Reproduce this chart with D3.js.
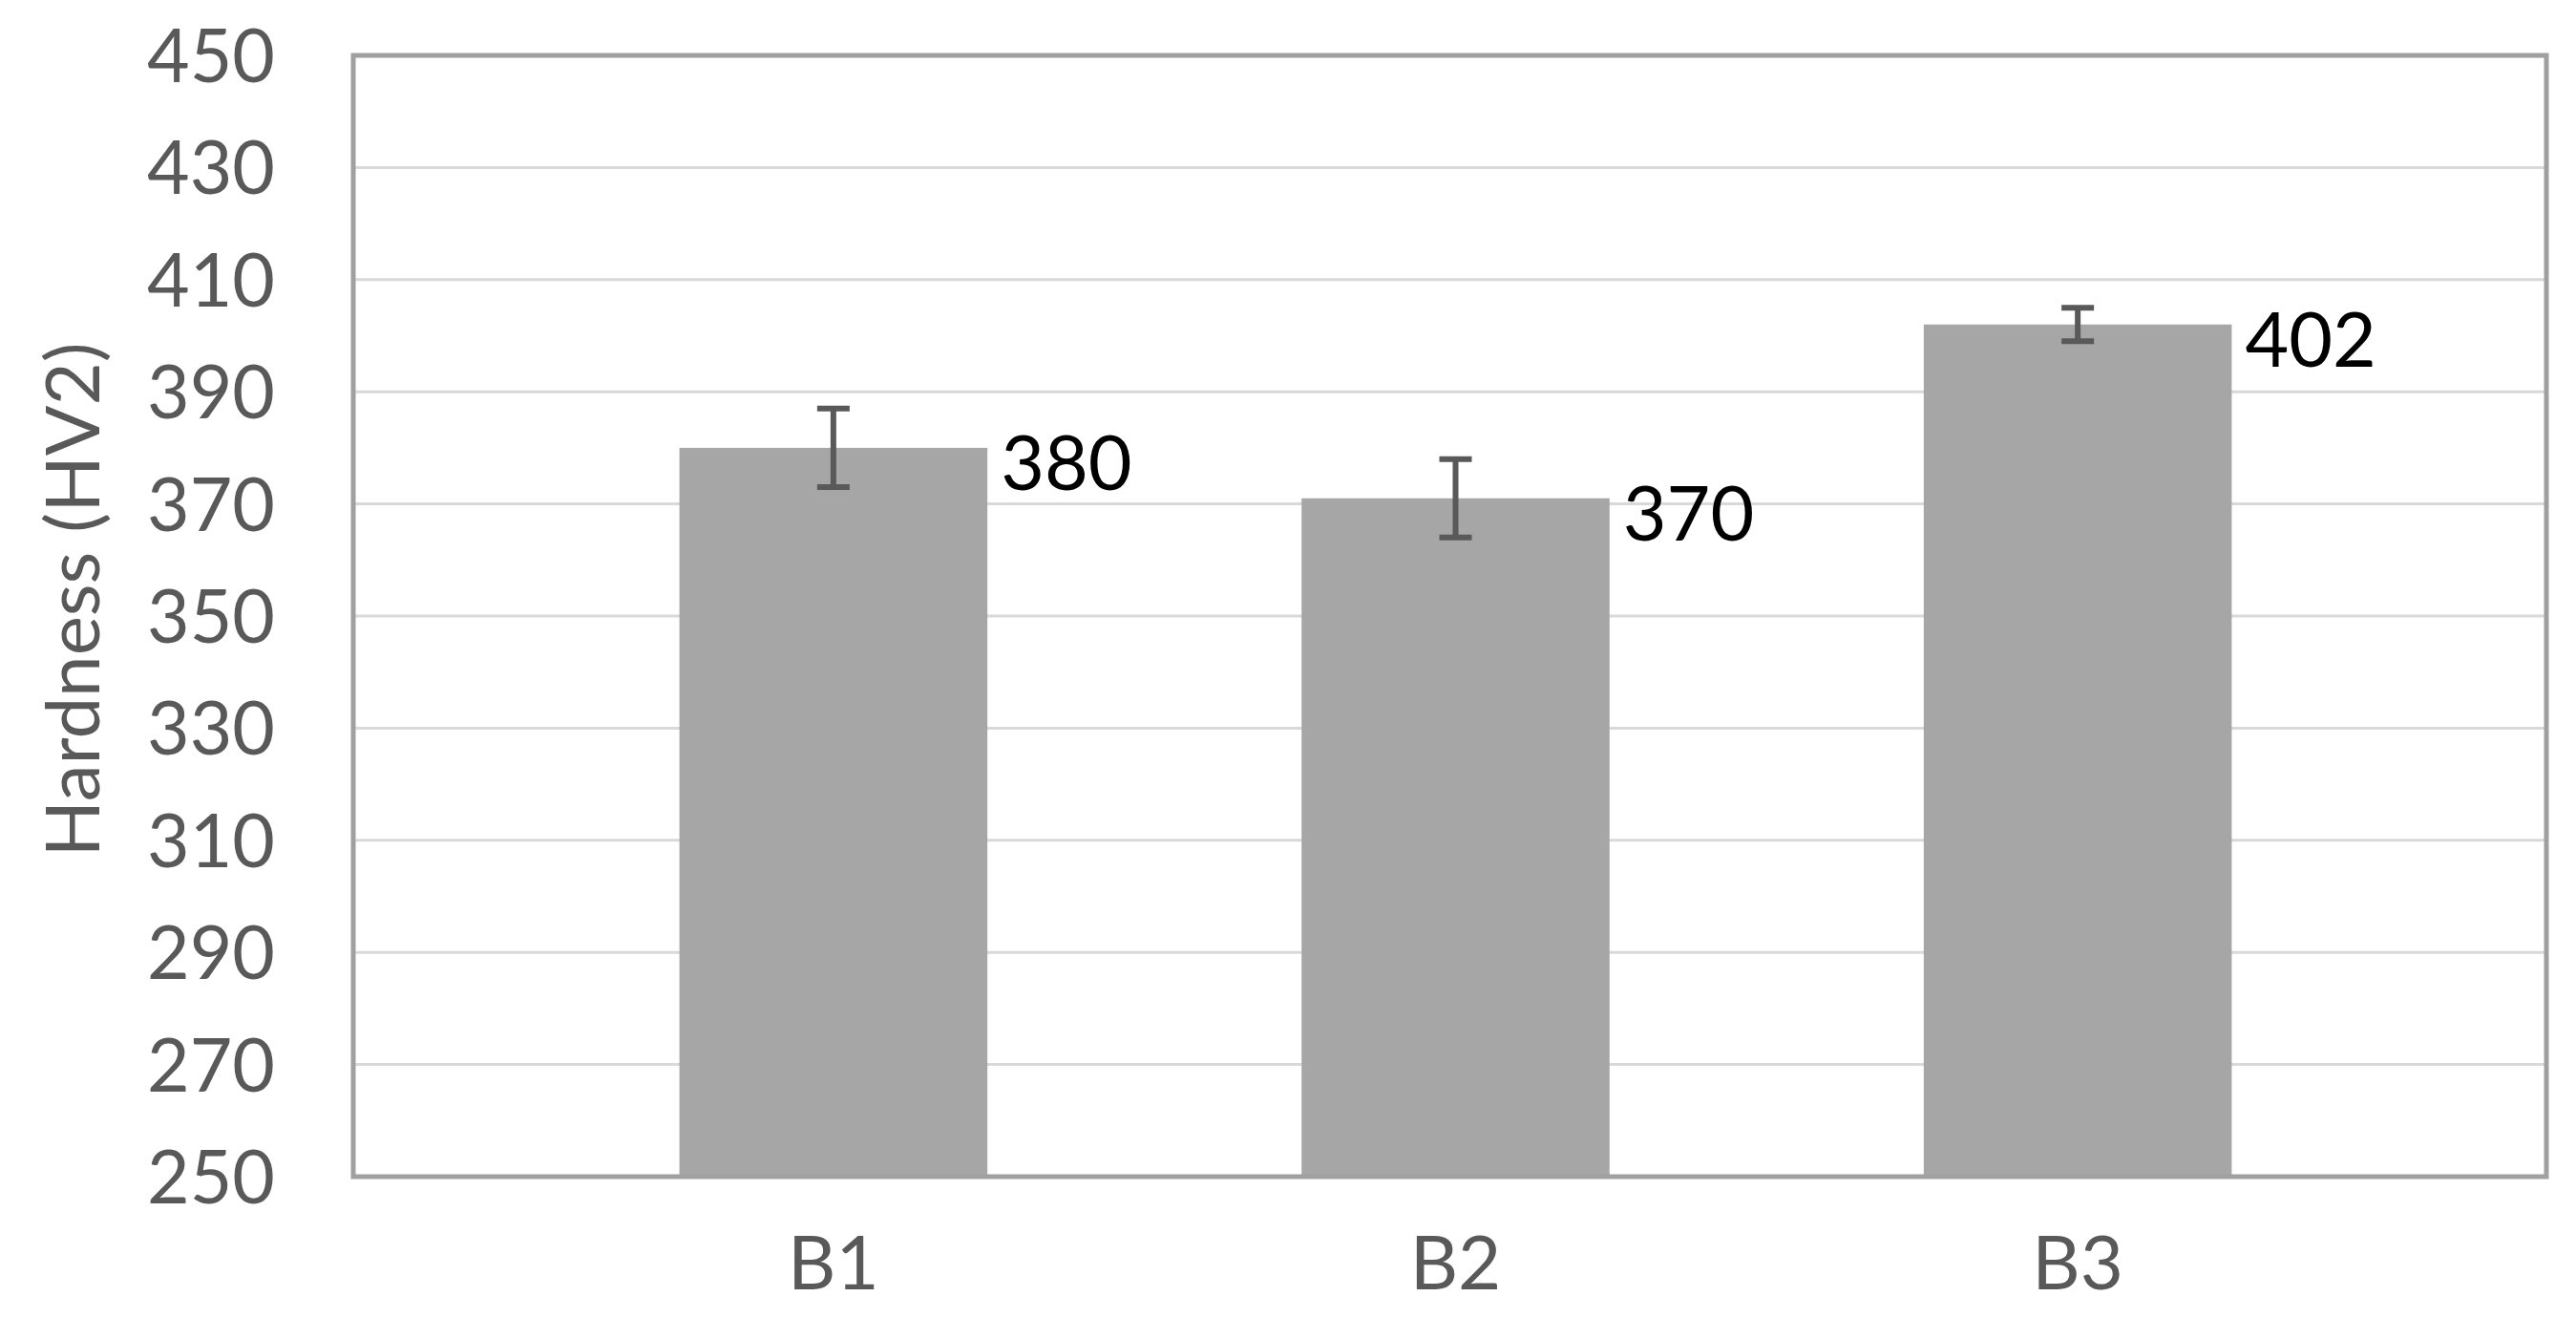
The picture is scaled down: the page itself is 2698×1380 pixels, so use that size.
<!DOCTYPE html>
<html>
<head>
<meta charset="utf-8">
<script src="https://cdn.jsdelivr.net/npm/d3@7"></script>
<style>
  body { margin: 0; background: #fff; }
  text { font-family: Lato, "Noto Sans", sans-serif; }
</style>
</head>
<body>
<div id="chart"></div>
<script>
var categories = ['B1', 'B2', 'B3'];
var hardness = [380, 371, 402];
var valueLabels = ['380', '370', '402'];
var errors = [7, 7, 3];
var yTicks = [250, 270, 290, 310, 330, 350, 370, 390, 410, 430, 450];

var width = 2698, height = 1380;
var plot = { left: 370, right: 2667, top: 58, bottom: 1232 };

var svg = d3.select('#chart').append('svg')
    .attr('width', width)
    .attr('height', height);

var x = d3.scaleBand()
    .domain(categories)
    .range([plot.left + 6, plot.right + 6])
    .paddingInner(0.505)
    .paddingOuter(0.515);

var y = d3.scaleLinear()
    .domain([250, 450])
    .range([plot.bottom, plot.top]);

// gridlines
svg.append('g')
  .selectAll('line')
  .data(yTicks.slice(1, -1))
  .enter()
  .append('line')
    .attr('x1', plot.left)
    .attr('x2', plot.right)
    .attr('y1', function(d) { return y(d); })
    .attr('y2', function(d) { return y(d); })
    .style('stroke', '#d9d9d9')
    .style('stroke-width', 3);

var data = categories.map(function(c, i) {
  return { cat: c, v: hardness[i], e: errors[i], lab: valueLabels[i] };
});

// bars
svg.append('g')
  .selectAll('rect')
  .data(data)
  .enter()
  .append('rect')
    .attr('x', function(d) { return x(d.cat); })
    .attr('y', function(d) { return y(d.v); })
    .attr('width', x.bandwidth())
    .attr('height', function(d) { return y(250) - y(d.v); })
    .style('fill', '#a6a6a6');

// frame
svg.append('rect')
    .attr('x', plot.left)
    .attr('y', plot.top)
    .attr('width', plot.right - plot.left)
    .attr('height', plot.bottom - plot.top)
    .style('fill', 'none')
    .style('stroke', '#a0a0a0')
    .style('stroke-width', 5);

// error bars
var capHalf = 17;
var eb = svg.append('g').selectAll('g')
  .data(data)
  .enter()
  .append('g')
    .style('stroke', '#595959')
    .style('stroke-width', 6);

eb.append('line')
    .attr('x1', function(d) { return x(d.cat) + x.bandwidth() / 2; })
    .attr('x2', function(d) { return x(d.cat) + x.bandwidth() / 2; })
    .attr('y1', function(d) { return y(d.v + d.e); })
    .attr('y2', function(d) { return y(d.v - d.e); });

eb.selectAll('.cap')
  .data(function(d) { return [d.v + d.e, d.v - d.e].map(function(v) { return { cat: d.cat, v: v }; }); })
  .enter()
  .append('line')
    .attr('class', 'cap')
    .attr('x1', function(d) { return x(d.cat) + x.bandwidth() / 2 - capHalf; })
    .attr('x2', function(d) { return x(d.cat) + x.bandwidth() / 2 + capHalf; })
    .attr('y1', function(d) { return y(d.v); })
    .attr('y2', function(d) { return y(d.v); });

// value labels
svg.append('g')
  .selectAll('text')
  .data(data)
  .enter()
  .append('text')
    .attr('x', function(d) { return x(d.cat) + x.bandwidth() + 14; })
    .attr('y', function(d) { return y(d.v) + 44; })
    .style('font-size', '79px')
    .style('fill', '#000')
    .text(function(d) { return d.lab; });

// y tick labels
svg.append('g')
  .selectAll('text')
  .data(yTicks)
  .enter()
  .append('text')
    .attr('x', 288)
    .attr('y', function(d) { return y(d) + 28; })
    .attr('text-anchor', 'end')
    .style('font-size', '77px')
    .style('fill', '#595959')
    .text(function(d) { return d; });

// x tick labels
svg.append('g')
  .selectAll('text')
  .data(categories)
  .enter()
  .append('text')
    .attr('x', function(d) { return x(d) + x.bandwidth() / 2; })
    .attr('y', 1350)
    .attr('text-anchor', 'middle')
    .style('font-size', '78px')
    .style('fill', '#595959')
    .text(function(d) { return d; });

// y axis title
svg.append('text')
    .attr('transform', 'translate(104,628) rotate(-90)')
    .attr('text-anchor', 'middle')
    .style('font-size', '78px')
    .style('fill', '#595959')
    .text('Hardness (HV2)');
</script>
</body>
</html>
